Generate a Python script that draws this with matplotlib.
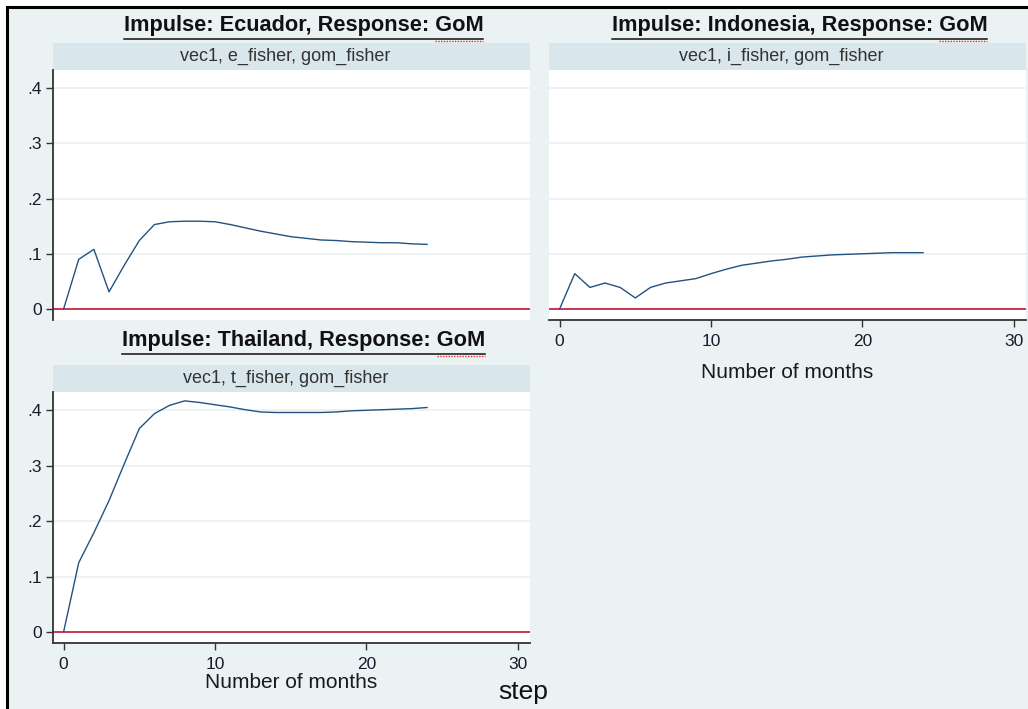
import matplotlib
matplotlib.use("Agg")
import matplotlib.pyplot as plt
from matplotlib.lines import Line2D
from matplotlib.patches import Rectangle

# Impulse-response values by month (step 0..24)
steps = list(range(25))
ecuador_gom = [0.000, 0.090, 0.108, 0.031, 0.079, 0.124, 0.153, 0.158, 0.159, 0.159,
               0.158, 0.153, 0.147, 0.141, 0.136, 0.131, 0.128, 0.125, 0.124, 0.122,
               0.121, 0.120, 0.120, 0.118, 0.117]
indonesia_gom = [0.000, 0.064, 0.039, 0.047, 0.039, 0.020, 0.039, 0.047, 0.051, 0.055,
                 0.064, 0.072, 0.079, 0.083, 0.087, 0.090, 0.094, 0.096, 0.098, 0.099,
                 0.100, 0.101, 0.102, 0.102, 0.102]
thailand_gom = [0.000, 0.125, 0.179, 0.237, 0.303, 0.367, 0.394, 0.409, 0.417, 0.414,
                0.410, 0.406, 0.401, 0.397, 0.396, 0.396, 0.396, 0.396, 0.397, 0.399,
                0.400, 0.401, 0.402, 0.403, 0.405]

panel_titles = ["Impulse: Ecuador, Response: GoM",
                "Impulse: Indonesia, Response: GoM",
                "Impulse: Thailand, Response: GoM"]
strip_labels = ["vec1, e_fisher, gom_fisher",
                "vec1, i_fisher, gom_fisher",
                "vec1, t_fisher, gom_fisher"]
y_ticks = [0, 0.1, 0.2, 0.3, 0.4]
y_tick_labels = ["0", ".1", ".2", ".3", ".4"]
x_ticks = [0, 10, 20, 30]
x_label = "Number of months"
outer_label = "step"

W, H = 1028, 709
BG = "#EAF2F3"
STRIP = "#D9E6EB"
LINE = "#24527F"
ZERO = "#CC3355"
FONT = ["Liberation Sans", "DejaVu Sans"]


def fx(px):
    return px / W


def fy(py):
    return 1 - py / H


fig = plt.figure(figsize=(W / 100, H / 100), dpi=100, facecolor="white")

# outer frame of the graph region
fig.patches.append(Rectangle((fx(7), fy(H + 5)), fx(W + 10) - fx(7), fy(7) - fy(H + 5),
                             transform=fig.transFigure, facecolor=BG,
                             edgecolor="black", linewidth=2.2, zorder=-5))

# panel geometry in pixels
panels = [
    dict(x0=53, x1=530, top=70, bottom=320, strip_top=43, title_y=26,
         data=ecuador_gom, yaxis=True, xaxis=False, labelpad=0),
    dict(x0=549, x1=1026, top=70, bottom=320, strip_top=43, title_y=26,
         data=indonesia_gom, yaxis=False, xaxis=True, labelpad=10),
    dict(x0=53, x1=530, top=392, bottom=643, strip_top=365, title_y=341,
         data=thailand_gom, yaxis=True, xaxis=True, labelpad=1),
]

fig.canvas.draw()
renderer = fig.canvas.get_renderer()

for i, p in enumerate(panels):
    ax = fig.add_axes([fx(p["x0"]), fy(p["bottom"]), fx(p["x1"] - p["x0"]),
                       (p["bottom"] - p["top"]) / H])
    ax.set_zorder(2)
    ax.set_facecolor("white")
    ax.set_xlim(-0.7, 30.8)
    ax.set_ylim(-0.02, 0.433)
    for yt in y_ticks[1:]:
        ax.axhline(yt, color=BG, linewidth=1.3, zorder=1)
    ax.axhline(0, color=ZERO, linewidth=1.4, zorder=2)
    ax.plot(steps, p["data"], color=LINE, linewidth=1.0, zorder=3)

    for side in ["top", "right"]:
        ax.spines[side].set_visible(False)
    ax.spines["left"].set_visible(p["yaxis"])
    ax.spines["bottom"].set_visible(p["xaxis"])
    for side in ["left", "bottom"]:
        ax.spines[side].set_color("#333333")
        ax.spines[side].set_linewidth(1.3)

    ax.set_yticks(y_ticks)
    ax.set_xticks(x_ticks)
    if p["yaxis"]:
        ax.set_yticklabels(y_tick_labels, fontfamily=FONT, fontsize=12.5, color="#1a1a2a")
        ax.tick_params(axis="y", length=5, width=1, color="#333333", pad=3)
    else:
        ax.tick_params(axis="y", left=False, labelleft=False)
    if p["xaxis"]:
        ax.set_xticklabels([str(t) for t in x_ticks], fontfamily=FONT, fontsize=12.5,
                           color="#1a1a2a")
        ax.tick_params(axis="x", length=5, width=1, color="#333333", pad=5)
        ax.set_xlabel(x_label, fontfamily=FONT, fontsize=15, color="#1a1a1a",
                      labelpad=p["labelpad"])
    else:
        ax.tick_params(axis="x", bottom=False, labelbottom=False)

    # strip header
    fig.patches.append(Rectangle((fx(p["x0"]), fy(p["top"])), fx(p["x1"] - p["x0"]),
                                 (p["top"] - p["strip_top"]) / H,
                                 transform=fig.transFigure, facecolor=STRIP,
                                 edgecolor="none", zorder=1))
    fig.text(fx((p["x0"] + p["x1"]) / 2 - 6), fy((p["top"] + p["strip_top"]) / 2),
             strip_labels[i], ha="center", va="center", fontfamily=FONT,
             fontsize=13, color="#333333")

    # underlined panel title
    cx = (p["x0"] + p["x1"]) / 2 + 12
    t = fig.text(fx(cx), fy(p["title_y"]), panel_titles[i], ha="center", va="center",
                 fontfamily=FONT, fontweight="bold", fontsize=15.7, color="#111111")
    bb = t.get_window_extent(renderer=renderer)
    uy = fy(p["title_y"] + 13)
    fig.add_artist(Line2D([bb.x0 / W, bb.x1 / W], [uy, uy], transform=fig.transFigure,
                          color="#111111", linewidth=1.1))
    # red dotted mark under the final word
    tail = fig.text(0, 0, "GoM", fontfamily=FONT, fontweight="bold", fontsize=15.7)
    tw = tail.get_window_extent(renderer=renderer).width
    tail.remove()
    ry = fy(p["title_y"] + 15)
    fig.add_artist(Line2D([(bb.x1 - tw) / W, bb.x1 / W], [ry, ry], transform=fig.transFigure,
                          color="#E03030", linewidth=1.0, linestyle=(0, (1, 1))))

fig.text(fx(523), fy(692), outer_label, ha="center", va="center",
         fontfamily=FONT, fontsize=19, color="#111111")

fig.savefig("out.png", dpi=100, facecolor="white")
